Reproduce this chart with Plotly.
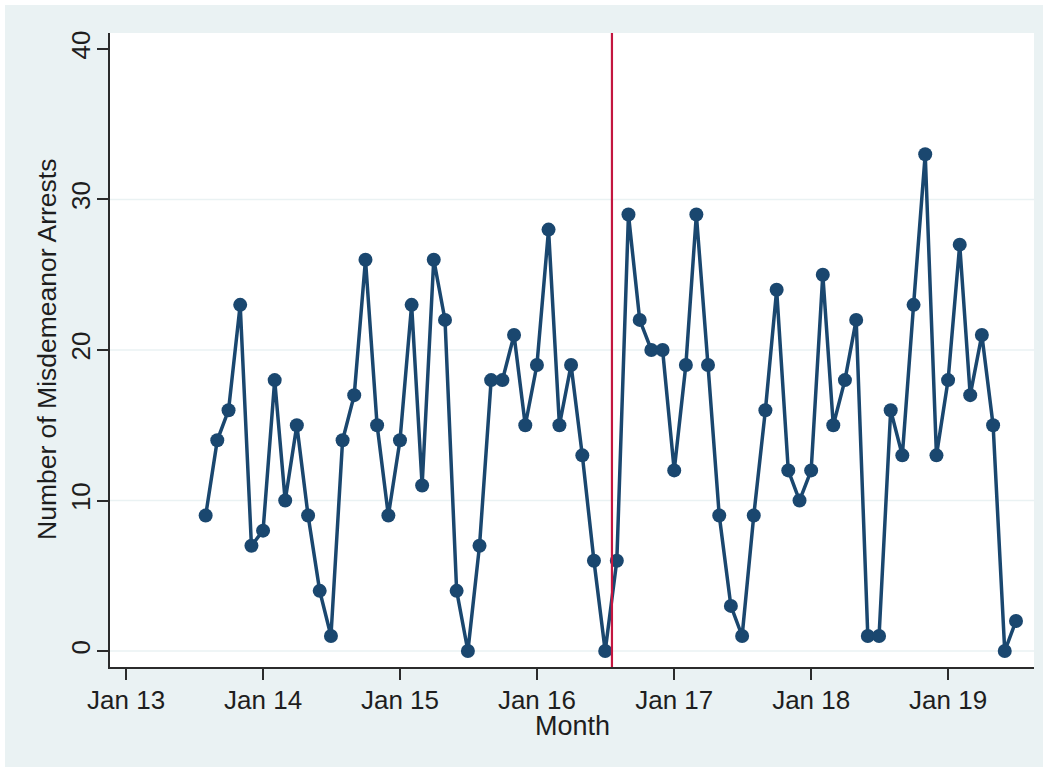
import pandas as pd
import plotly.graph_objects as go

# Monthly misdemeanor arrest counts, Aug 2013 - Jul 2019
arrests = [
    9, 14, 16, 23, 7,                                # 2013 (Aug-Dec)
    8, 18, 10, 15, 9, 4, 1, 14, 17, 26, 15, 9,       # 2014
    14, 23, 11, 26, 22, 4, 0, 7, 18, 18, 21, 15,     # 2015
    19, 28, 15, 19, 13, 6, 0, 6, 29, 22, 20, 20,     # 2016
    12, 19, 29, 19, 9, 3, 1, 9, 16, 24, 12, 10,      # 2017
    12, 25, 15, 18, 22, 1, 1, 16, 13, 23, 33, 13,    # 2018
    18, 27, 17, 21, 15, 0, 2,                        # 2019 (Jan-Jul)
]
months = pd.date_range("2013-08-01", periods=len(arrests), freq="MS")

policy_date = "2016-07-19"
y_ticks = [0, 10, 20, 30, 40]
grid_values = [0, 10, 20, 30]

NAVY = "#1a476f"
BG = "#eaf2f3"
RED = "#c3163f"
AXIS = "#2b2b2b"
TEXT = "#1e1e1e"
FONT = "Liberation Sans, Arial, sans-serif"

W, H = 1047, 769
L, R, T, B = 110, 13, 33, 102
pw, ph = W - L - R, H - T - B


def px_x(p):
    return (p - L) / pw


def px_y(p):
    return (H - B - p) / ph


fig = go.Figure()
fig.add_trace(go.Scatter(
    x=months, y=arrests, mode="lines+markers",
    line=dict(color=NAVY, width=3.5),
    marker=dict(color=NAVY, size=14),
    showlegend=False, cliponaxis=False,
))

shapes = [
    # outer panel background
    dict(type="rect", xref="paper", yref="paper",
         x0=px_x(5), x1=px_x(1043), y0=px_y(767), y1=px_y(5),
         fillcolor=BG, line=dict(width=0), layer="below"),
    # white plotting region
    dict(type="rect", xref="paper", yref="paper", x0=0, x1=1, y0=0, y1=1,
         fillcolor="white", line=dict(width=0), layer="below"),
]
for g in grid_values:
    shapes.append(dict(type="line", xref="paper", yref="y", x0=0, x1=1,
                       y0=g, y1=g, line=dict(color=BG, width=1.5),
                       layer="below"))
shapes.append(dict(type="line", xref="x", yref="paper", x0=policy_date,
                   x1=policy_date, y0=0, y1=1,
                   line=dict(color=RED, width=2.2)))

fig.update_layout(
    width=W, height=H,
    margin=dict(l=L, r=R, t=T, b=B),
    paper_bgcolor="white",
    plot_bgcolor="rgba(0,0,0,0)",
    font=dict(family=FONT, size=26, color=TEXT),
    shapes=shapes,
    annotations=[
        dict(text="Month", xref="paper", yref="paper", x=0.5, y=0,
             xanchor="center", yanchor="middle", yshift=-59,
             showarrow=False, font=dict(size=27, color=TEXT)),
        dict(text="Number of Misdemeanor Arrests", xref="paper",
             yref="paper", x=px_x(47), y=0.5, textangle=-90,
             xanchor="center", yanchor="middle",
             showarrow=False, font=dict(size=26.5, color=TEXT)),
    ],
    xaxis=dict(
        type="date",
        range=["2012-11-19", "2019-08-18"],
        tick0="2013-01-01", dtick="M12", tickformat="%b %y",
        ticks="outside", ticklen=11, tickwidth=1.5, tickcolor=AXIS,
        ticklabelstandoff=-2,
        showline=True, linecolor=AXIS, linewidth=1.5,
        showgrid=False, zeroline=False,
    ),
    yaxis=dict(
        range=[-1.06, 41.06],
        tickvals=y_ticks, tickangle=-90,
        ticks="outside", ticklen=11, tickwidth=1.5, tickcolor=AXIS,
        ticklabelstandoff=-3,
        showline=True, linecolor=AXIS, linewidth=1.5,
        showgrid=False, zeroline=False,
    ),
)

fig.write_html("out.html")
